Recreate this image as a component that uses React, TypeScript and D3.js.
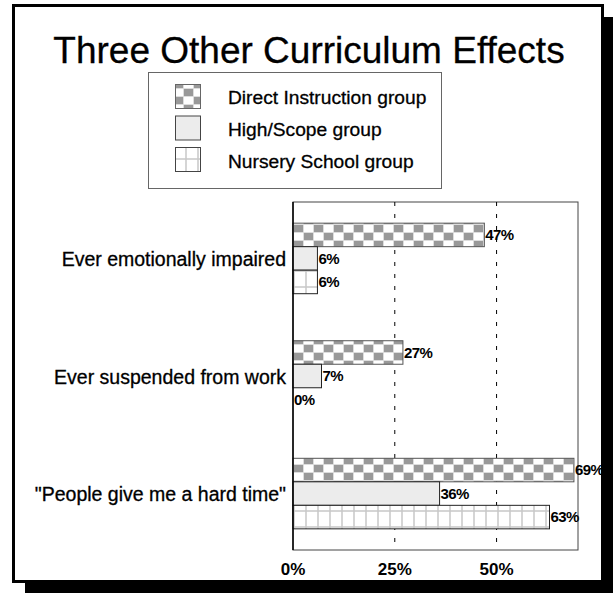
import React from 'react';
import * as d3 from 'd3';

const categories = ['Ever emotionally impaired', 'Ever suspended from work', '"People give me a hard time"'];
const seriesNames = ['Direct Instruction group', 'High/Scope group', 'Nursery School group'];
const directInstruction = [47, 27, 69];
const highScope = [6, 7, 36];
const nurserySchool = [6, 0, 63];
const tickValues = [0, 25, 50];
const tickLabels = ['0%', '25%', '50%'];

const seriesValues = [directInstruction, highScope, nurserySchool];
const fills = ['url(#pat-di)', '#ececec', 'url(#pat-ns)'];
const strokes = ['#555', '#222', '#222'];

const App = () => {
  const W = 613, H = 593;
  const plot = { left: 293, right: 578, top: 202, bottom: 550 };

  const x = d3.scaleLinear().domain([0, 70]).range([plot.left, plot.right]);
  const y0 = d3.scaleBand<string>()
    .domain(categories)
    .range([plot.top, plot.bottom])
    .paddingInner(0.4)
    .paddingOuter(0.18);
  const y1 = d3.scaleBand<string>()
    .domain(seriesNames)
    .range([0, y0.bandwidth()]);

  const font = '"Liberation Sans", Arial, sans-serif';

  return (
    <svg width={W} height={H} style={{ position: 'absolute', left: 0, top: 0 }} fontFamily={font}>
      <defs>
        <pattern id="pat-di" patternUnits="userSpaceOnUse" x={plot.left} y={0} width={20} height={16}>
          <rect width={20} height={16} fill="#fff" />
          <rect x={0} y={0} width={10} height={8} fill="#999" />
          <rect x={10} y={8} width={10} height={8} fill="#999" />
          <path d="M0,0.5H20M0,8.5H20M0.5,0V16M10.5,0V16" stroke="#ddd" strokeWidth={1} />
        </pattern>
        <pattern id="pat-ns" patternUnits="userSpaceOnUse" x={plot.left} y={2} width={12} height={16}>
          <rect width={12} height={16} fill="#fff" />
          <path d="M1,0V16M0,13H12" stroke="#c8c8c8" strokeWidth={1.5} />
        </pattern>
      </defs>

      {/* frame + shadow */}
      <rect x={25} y={17} width={600} height={590} fill="#000" />
      <rect x={13.5} y={5.5} width={589} height={576} fill="#fff" stroke="#000" strokeWidth={3} />

      <text x={309} y={63} textAnchor="middle" fontSize={37} stroke="#000" strokeWidth={0.3}>
        Three Other Curriculum Effects
      </text>

      {/* legend */}
      <rect x={148.5} y={72.5} width={293} height={116} fill="#fff" stroke="#666" strokeWidth={1} />
      {seriesNames.map((s, i) => (
        <g key={s}>
          <rect x={175.5} y={84.5 + i * 31.5} width={25} height={24} fill={fills[i]} stroke={i === 0 ? '#666' : '#444'} />
          <text x={228} y={104 + i * 32} fontSize={19.2} stroke="#000" strokeWidth={0.3}>{s}</text>
        </g>
      ))}

      {/* plot frame */}
      <rect x={plot.left} y={plot.top} width={plot.right - plot.left} height={plot.bottom - plot.top}
        fill="#fff" stroke="#444" strokeWidth={1} />
      {tickValues.filter(t => t > 0).map(t => (
        <line key={t} x1={x(t)} x2={x(t)} y1={plot.top} y2={plot.bottom}
          stroke="#000" strokeWidth={1} strokeDasharray="4,8" />
      ))}

      {/* bars */}
      {categories.map((c, ci) => (
        <g key={c}>
          <text x={286} y={(y0(c) ?? 0) + y0.bandwidth() / 2 + 1} dy="0.35em" textAnchor="end" fontSize={19.5}
            stroke="#000" strokeWidth={0.3}>{c}</text>
          {seriesNames.map((s, si) => {
            const v = seriesValues[si][ci];
            const by = (y0(c) ?? 0) + (y1(s) ?? 0);
            return (
              <g key={s}>
                {v > 0 && (
                  <rect x={x(0)} y={by} width={x(v) - x(0)} height={y1.bandwidth()}
                    fill={fills[si]} stroke={strokes[si]} strokeWidth={1} />
                )}
                <text x={x(v) + 1} y={by + y1.bandwidth() / 2} dy="0.36em" fontSize={15}
                  fontWeight="bold" letterSpacing={-0.6}>{v}%</text>
              </g>
            );
          })}
        </g>
      ))}

      <line x1={plot.left} x2={plot.left} y1={plot.top} y2={plot.bottom} stroke="#000" strokeWidth={1.5} />

      {/* x axis labels */}
      {tickValues.map((t, i) => (
        <text key={t} x={x(t)} y={575} textAnchor="middle" fontSize={17} fontWeight="bold">
          {tickLabels[i]}
        </text>
      ))}
    </svg>
  );
};

export default App;
